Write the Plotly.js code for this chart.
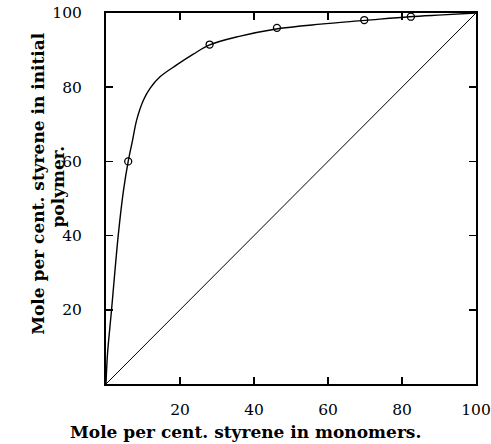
<!DOCTYPE html>
<html>
<head>
<meta charset="utf-8">
<script src="https://cdn.plot.ly/plotly-3.0.1.min.js"></script>
<style>html,body{margin:0;padding:0;background:#fff;}#chart{width:491px;height:444px;}</style>
</head>
<body>
<div id="chart"></div>
<script>
// Smooth composition curve
const curveX = [0, 0.4, 1.5, 3.3, 4.7, 6, 7.2, 8.3, 10.1, 11.9, 14.6, 19.1, 23.6, 28, 36, 46, 58, 70, 82, 91, 100];
const curveY = [0, 8, 20, 40, 52, 60, 65.8, 71.2, 76.5, 79.7, 82.8, 86.0, 88.9, 91.4, 93.7, 95.7, 97.0, 98.0, 99.0, 99.5, 100];
// Experimental points
const pointX = [6, 28, 46.2, 69.8, 82.4];
const pointY = [60, 91.5, 96, 98.1, 99];
// Ideal (azeotropic) diagonal
const diagX = [0, 100];
const diagY = [0, 100];
const tickVals = [20, 40, 60, 80, 100];
const tickText = ['20', '40', '60', '80', '100'];
const xTitle = 'Mole per cent. styrene in monomers.';
const yTitleLines = ['Mole per cent. styrene in initial', 'polymer.'];

const font = {family: 'DejaVu Serif, serif', size: 15.5, color: '#000'};
const titleFont = {family: 'DejaVu Serif, serif', size: 17, color: '#000', weight: 'bold'};

const traces = [
  {x: diagX, y: diagY, mode: 'lines', line: {color: '#000', width: 1}, hoverinfo: 'skip'},
  {x: curveX, y: curveY, mode: 'lines', line: {color: '#000', width: 1.4, shape: 'spline', smoothing: 1}, hoverinfo: 'skip'},
  {x: pointX, y: pointY, mode: 'markers', marker: {symbol: 'circle-open', size: 7, color: '#000', line: {width: 1.3, color: '#000'}}}
];

const axisCommon = {
  range: [0, 100], showgrid: false, zeroline: false,
  showline: true, linecolor: '#000', linewidth: 2, mirror: 'ticks',
  ticks: 'inside', ticklen: 7, tickwidth: 1.5, tickcolor: '#000',
  tickvals: tickVals, ticktext: tickText, tickfont: font
};

const layout = {
  width: 491, height: 444,
  margin: {l: 106, r: 15, t: 13, b: 60},
  paper_bgcolor: '#fff', plot_bgcolor: '#fff',
  showlegend: false,
  font: font,
  xaxis: Object.assign({}, axisCommon, {ticklabelstandoff: 10}),
  yaxis: Object.assign({}, axisCommon, {ticklabelstandoff: 19}),
  annotations: [
    {text: xTitle, xref: 'paper', yref: 'paper',
     x: 0.376, y: -0.129, xanchor: 'center', yanchor: 'middle', showarrow: false,
     font: titleFont},
    {text: yTitleLines[0], xref: 'paper', yref: 'paper',
     x: -0.184, y: 0.542, xanchor: 'center', yanchor: 'middle', textangle: -90, showarrow: false,
     font: titleFont},
    {text: yTitleLines[1], xref: 'paper', yref: 'paper',
     x: -0.130, y: 0.532, xanchor: 'center', yanchor: 'middle', textangle: -90, showarrow: false,
     font: titleFont}
  ]
};

Plotly.newPlot('chart', traces, layout, {displayModeBar: false, staticPlot: true});
</script>
</body>
</html>
